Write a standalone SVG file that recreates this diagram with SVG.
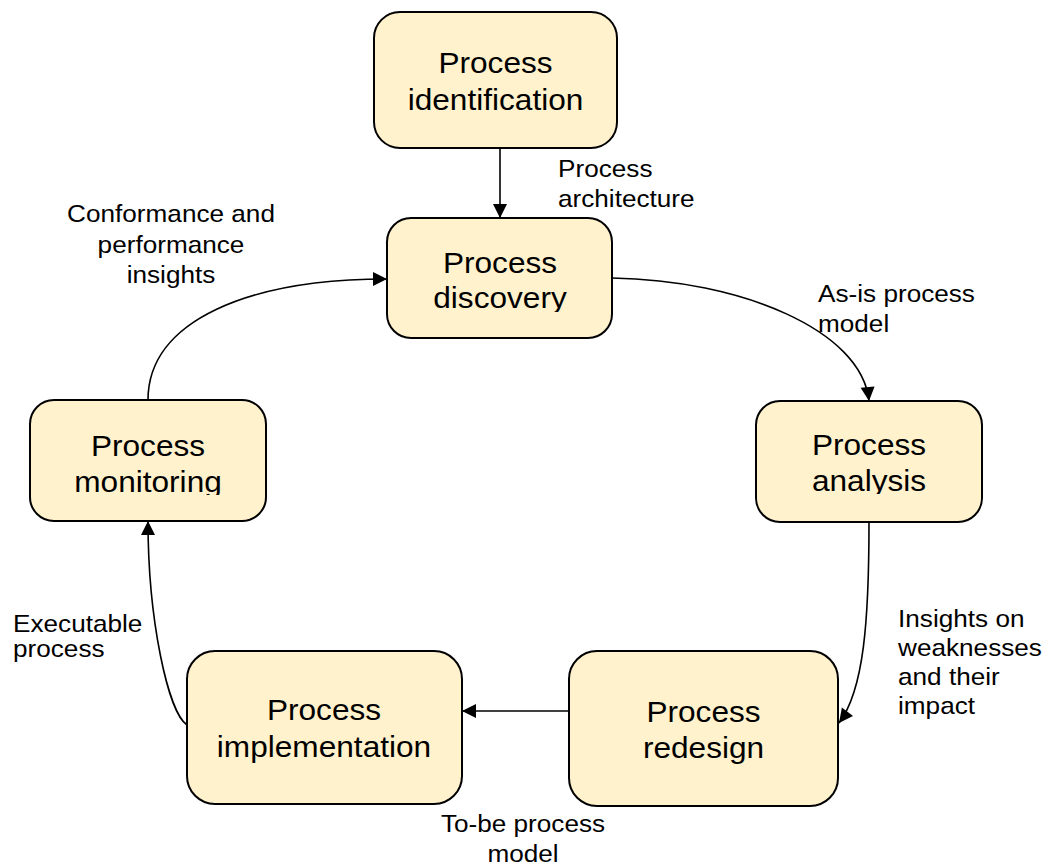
<svg xmlns="http://www.w3.org/2000/svg" width="1049" height="865" viewBox="0 0 1049 865">
<style>
.box{fill:#FFF2CC;stroke:#000;stroke-width:2}
.nt{font-family:"Liberation Sans",Arial,sans-serif;font-size:29px;fill:#000;text-anchor:middle}
.lt{font-family:"Liberation Sans",Arial,sans-serif;font-size:24px;fill:#000}
.mid{text-anchor:middle}
.edge{fill:none;stroke:#000;stroke-width:1.6}
</style>
<defs>
<marker id="ah" markerUnits="userSpaceOnUse" markerWidth="16" markerHeight="16" viewBox="0 0 16 16" refX="15" refY="8" orient="auto">
<path d="M1,1 L15,8 L1,15 Z" fill="#000"/>
</marker>
<clipPath id="cDisc" clipPathUnits="userSpaceOnUse"><rect x="380" y="210" width="240" height="102"/></clipPath>
<clipPath id="cMon" clipPathUnits="userSpaceOnUse"><rect x="25" y="395" width="250" height="100"/></clipPath>
<clipPath id="cAna" clipPathUnits="userSpaceOnUse"><rect x="750" y="395" width="240" height="99"/></clipPath>
<clipPath id="cExe" clipPathUnits="userSpaceOnUse"><rect x="0" y="600" width="170" height="63"/></clipPath>
</defs>
<rect width="1049" height="865" fill="#fff"/>

<g id="connectors">
<path class="edge" d="M500,148 L500,218" marker-end="url(#ah)"/>
<path class="edge" d="M612,278 C740,280 862,330 869,401" marker-end="url(#ah)"/>
<path class="edge" d="M869,522 C869,620 864,690 839,723" marker-end="url(#ah)"/>
<path class="edge" d="M569,711 L462,711" marker-end="url(#ah)"/>
<path class="edge" d="M187,725 C168,712 148,620 148,521" marker-end="url(#ah)"/>
<path class="edge" d="M148,400 C148,320 250,279 387,279" marker-end="url(#ah)"/>
</g>

<g id="node-identification">
<rect class="box" x="374" y="12" width="243" height="136" rx="26"/>
<text class="nt" transform="translate(495.5,0) scale(1.09,1)"><tspan x="0" y="73">Process</tspan><tspan x="0" y="110">identification</tspan></text>
</g>
<g id="node-discovery">
<rect class="box" x="387" y="218" width="225" height="120" rx="24"/>
<g clip-path="url(#cDisc)"><text class="nt" transform="translate(500,0) scale(1.09,1)"><tspan x="0" y="273">Process</tspan><tspan x="0" y="308">discovery</tspan></text></g>
</g>
<g id="node-analysis">
<rect class="box" x="756" y="401" width="226" height="121" rx="24"/>
<g clip-path="url(#cAna)"><text class="nt" transform="translate(869,0) scale(1.09,1)"><tspan x="0" y="455">Process</tspan><tspan x="0" y="491">analysis</tspan></text></g>
</g>
<g id="node-redesign">
<rect class="box" x="569" y="651" width="269" height="155" rx="28"/>
<text class="nt" transform="translate(703.5,0) scale(1.09,1)"><tspan x="0" y="722">Process</tspan><tspan x="0" y="758">redesign</tspan></text>
</g>
<g id="node-implementation">
<rect class="box" x="187" y="651" width="275" height="153" rx="28"/>
<text class="nt" transform="translate(324,0) scale(1.09,1)"><tspan x="0" y="720">Process</tspan><tspan x="0" y="757">implementation</tspan></text>
</g>
<g id="node-monitoring">
<rect class="box" x="30" y="400" width="236" height="121" rx="24"/>
<g clip-path="url(#cMon)"><text class="nt" transform="translate(148,0) scale(1.09,1)"><tspan x="0" y="456">Process</tspan><tspan x="0" y="492">monitoring</tspan></text></g>
</g>

<g id="labels">
<text class="lt" transform="translate(558,0) scale(1.09,1)"><tspan x="0" y="177">Process</tspan><tspan x="0" y="207">architecture</tspan></text>
<text class="lt mid" transform="translate(171,0) scale(1.09,1)"><tspan x="0" y="222">Conformance and</tspan><tspan x="0" y="253">performance</tspan><tspan x="0" y="283">insights</tspan></text>
<text class="lt" transform="translate(818,0) scale(1.09,1)"><tspan x="0" y="302">As-is process</tspan><tspan x="0" y="332">model</tspan></text>
<text class="lt" transform="translate(898,0) scale(1.09,1)"><tspan x="0" y="627">Insights on</tspan><tspan x="0" y="656">weaknesses</tspan><tspan x="0" y="685">and their</tspan><tspan x="0" y="714">impact</tspan></text>
<g clip-path="url(#cExe)"><text class="lt" transform="translate(13,0) scale(1.09,1)"><tspan x="0" y="632">Executable</tspan><tspan x="0" y="657">process</tspan></text></g>
<text class="lt mid" transform="translate(523,0) scale(1.09,1)"><tspan x="0" y="832">To-be process</tspan><tspan x="0" y="862">model</tspan></text>
</g>
</svg>
